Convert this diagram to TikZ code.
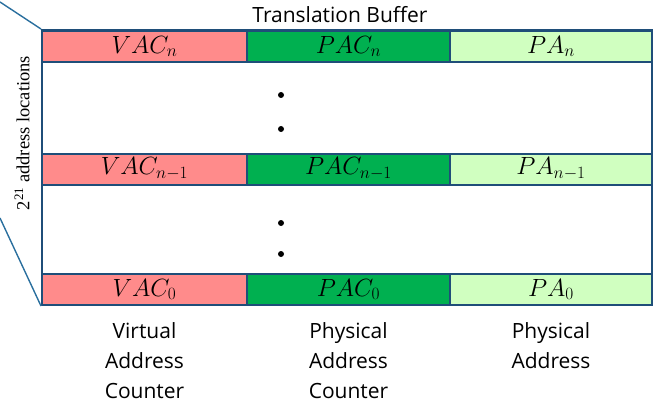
\documentclass[tikz,border=0pt]{standalone}
\usepackage{fontspec}
\setmainfont{Open Sans}
\newfontfamily\labelserif{Liberation Serif}
\definecolor{vacred}{HTML}{FF8B8B}
\definecolor{pacgreen}{HTML}{00B050}
\definecolor{palight}{HTML}{D0FFC0}
\definecolor{framecol}{HTML}{1F4E79}
\definecolor{guidecol}{HTML}{2A6F9E}
\begin{document}
\begin{tikzpicture}[x=1pt,y=-1pt,
  cell/.style={draw=framecol, line width=2pt, rectangle, inner sep=0pt,
    minimum height=31pt, font=\fontsize{24}{28}\selectfont},
  vaccell/.style={cell, fill=vacred, minimum width=205pt},
  paccell/.style={cell, fill=pacgreen, minimum width=203pt},
  pacell/.style={cell, fill=palight, minimum width=202pt},
  caption/.style={align=center, anchor=north, inner sep=0pt,
    font=\fontsize{21}{30}\selectfont},
  guide/.style={draw=guidecol, line width=1.4pt},
  dotmark/.style={circle, fill=black, inner sep=0pt, minimum size=6pt}]
\useasboundingbox (0,0) rectangle (654,412);

% outer frame of the buffer
\node[draw=framecol, line width=2pt, rectangle, inner sep=0pt,
  minimum width=610pt, minimum height=275pt] (buffer) at (347,167.5) {};

% title
\node[font=\fontsize{21}{24}\selectfont, inner sep=0pt] (title) at (340,15) {Translation Buffer};

% entry n
\node[vaccell] (vacn) at (144.5,46.5) {$VAC_n$};
\node[paccell] (pacn) at (348.5,46.5) {$PAC_n$};
\node[pacell]  (pan)  at (551,46.5)   {$PA_n$};

% entry n-1
\node[vaccell] (vacm) at (144.5,169) {$VAC_{n-1}$};
\node[paccell] (pacm) at (348.5,169) {$PAC_{n-1}$};
\node[pacell]  (pam)  at (551,169)   {$PA_{n-1}$};

% entry 0
\node[vaccell] (vac0) at (144.5,289.5) {$VAC_0$};
\node[paccell] (pac0) at (348.5,289.5) {$PAC_0$};
\node[pacell]  (pa0)  at (551,289.5)   {$PA_0$};

% ellipsis dots
\node[dotmark] (d1) at (281,95) {};
\node[dotmark] (d2) at (281,129) {};
\node[dotmark] (d3) at (281,223) {};
\node[dotmark] (d4) at (281,254) {};

% size brace lines and label
\coordinate (gtop) at (0,2);
\coordinate (gbot) at (0,218);
\draw[guide] (gtop) -- (buffer.north west);
\draw[guide] (gbot) -- (buffer.south west);
\node[rotate=90, inner sep=0pt, font=\labelserif\fontsize{18.5}{22}\selectfont] (size) at (22,133)
  {2\textsuperscript{21} address locations};

% column captions
\node[caption] (cap1) at (144.5,322) {Virtual\\Address\\Counter};
\node[caption] (cap2) at (348.5,322) {Physical\\Address\\Counter};
\node[caption] (cap3) at (551,322)   {Physical\\Address};
\end{tikzpicture}
\end{document}
